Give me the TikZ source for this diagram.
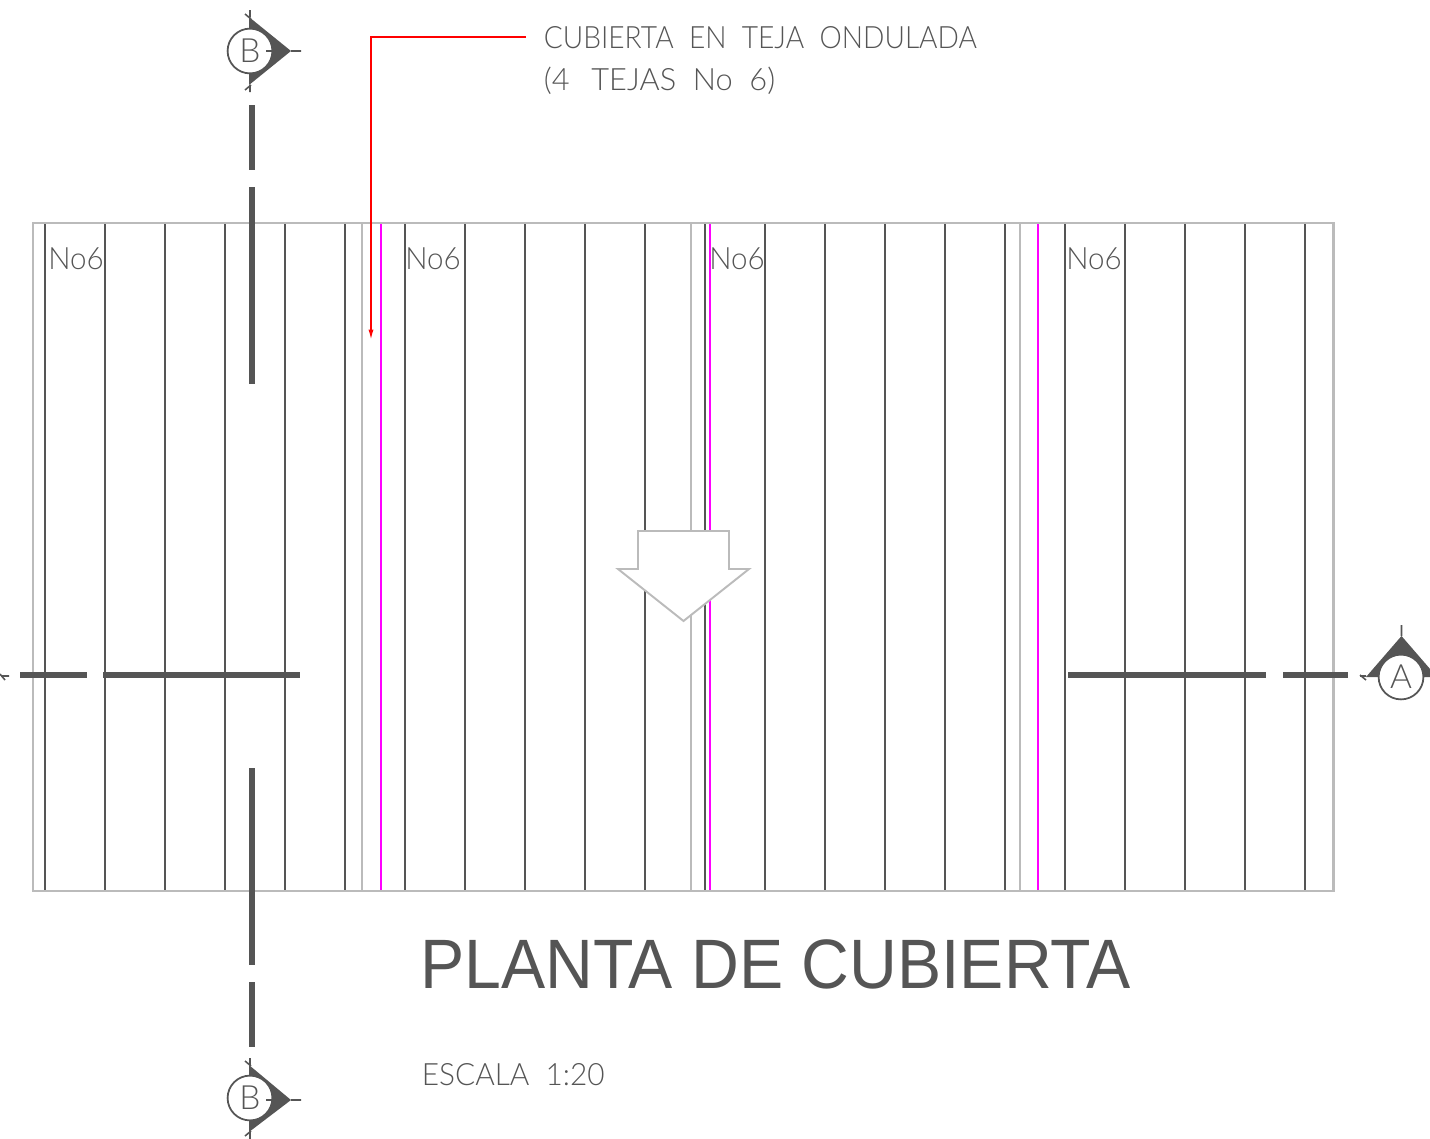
\documentclass[tikz,border=0pt]{standalone}
\usepackage{fontspec}
\setmainfont{Liberation Sans}
\newfontfamily\thinfont{Lato Light}
\usetikzlibrary{arrows.meta,positioning}
\definecolor{planogris}{HTML}{555555}
\definecolor{marcogris}{HTML}{BBBBBB}
\definecolor{tejamagenta}{HTML}{FF00FF}
\begin{document}
\begin{tikzpicture}[
    x=0.02cm,y=-0.02cm,
    tejaline/.style={draw=planogris,line width=1.1pt},
    traslapo/.style={draw=marcogris,line width=1.3pt},
    magentaline/.style={draw=tejamagenta,line width=1.1pt},
    corteline/.style={draw=planogris,line width=3.7pt},
    ticksec/.style={draw=planogris,line width=0.9pt},
    secmark/.style={circle,draw=planogris,line width=1pt,fill=white,minimum size=25.5pt,inner sep=0pt,
        text=planogris,font=\thinfont\fontsize{19}{19}\selectfont},
    cadtext/.style={anchor=base west,inner sep=0pt,text=planogris,font=\thinfont\fontsize{17.5}{17.5}\selectfont}
  ]
  \useasboundingbox (0,0) rectangle (1430,1139);
  % tejas
  \foreach \x in {44.6,104.6,164.6,224.6,284.6,344.6,404.6,464.6,524.6,584.6,644.6,704.6,764.6,824.6,884.6,944.6,1004.6,1064.6,1124.6,1184.6,1244.6,1304.6}
    \draw[tejaline] (\x,223) -- (\x,891);
  \foreach \x in {362,691,1020}
    \draw[traslapo] (\x,223) -- (\x,891);
  \foreach \x in {381,710,1038}
    \draw[magentaline] (\x,223) -- (\x,891);
  \draw[traslapo] (33,223) rectangle (1333.5,891);

  % llamada
  \coordinate (notaend) at (526,37);
  \coordinate (notacorner) at (371,37);
  \coordinate (notatip) at (371,341);
  \draw[red,line width=1.1pt,-{Latex[length=6.5pt,width=2.9pt]}] (notaend) -- (notacorner) -- (notatip);
  \node (nota1) [cadtext,xscale=.915] at (543.5,49) {CUBIERTA\ \ EN\ \ TEJA\ \ ONDULADA};
  \node (nota2) [cadtext] at (543.5,90) {(4\ \ \,TEJAS\ \ No\ \ 6)};

  \node (no1) [cadtext,xscale=.96] at (48,269) {No6};
  \node (no2) [cadtext,xscale=.96] at (405,269) {No6};
  \node (no3) [cadtext,xscale=.96] at (709,269) {No6};
  \node (no4) [cadtext,xscale=.96] at (1066,269) {No6};

  % pendiente
  \draw[traslapo,fill=white,line width=1.1pt] (638,531) -- (729,531) -- (729,569) -- (749,569) -- (683.5,621) -- (618,569) -- (638,569) -- cycle;

  % cortes
  \coordinate (bt1) at (252,105);
  \coordinate (bt2) at (252,170);
  \coordinate (bt3) at (252,187);
  \coordinate (bt4) at (252,384);
  \coordinate (bb1) at (252,768);
  \coordinate (bb2) at (252,965);
  \coordinate (bb3) at (252,982);
  \coordinate (bb4) at (252,1047);
  \coordinate (al1) at (20,675);
  \coordinate (al2) at (87,675);
  \coordinate (al3) at (103,675);
  \coordinate (al4) at (300,675);
  \coordinate (ar1) at (1068,675);
  \coordinate (ar2) at (1266,675);
  \coordinate (ar3) at (1283,675);
  \coordinate (ar4) at (1348,675);
  \draw[corteline] (bt1) -- (bt2) (bt3) -- (bt4);
  \draw[corteline] (bb1) -- (bb2) (bb3) -- (bb4);
  \draw[corteline] (al1) -- (al2) (al3) -- (al4);
  \draw[corteline] (ar1) -- (ar2) (ar3) -- (ar4);

  % marcas de corte
  \fill[planogris] (249,17) -- (291,51) -- (249,85) -- cycle;
  \draw[ticksec] (250,10) -- (250,17) (245,14) -- (251,19) (250,85) -- (250,92) (245,90) -- (251,85) (291,51) -- (301,51);
  \node (secB1) [secmark] at (250,51) {B};
  \draw[ticksec] (266,51) -- (273,51);

  \fill[planogris] (249,1065) -- (291,1100) -- (249,1132) -- cycle;
  \draw[ticksec] (250,1058) -- (250,1065) (245,1061) -- (251,1066) (250,1132) -- (250,1139) (245,1136) -- (251,1131) (291,1100) -- (301,1100);
  \node (secB2) [secmark] at (250,1098) {B};
  \draw[ticksec] (266,1100) -- (273,1100);

  \fill[planogris] (1401.5,636) -- (1366,677) -- (1437,677) -- cycle;
  \draw[ticksec] (1401.5,625) -- (1401.5,636) (1360,676) -- (1366,676) (1360,675) -- (1366,680);
  \node (secA) [secmark] at (1401,677) {A};
  \draw[ticksec] (1401.5,649) -- (1401.5,655);
  \draw[ticksec] (0,674) -- (5,680) (1,676) -- (9,676);

  % titulo
  \node (titulo) [anchor=base west,inner sep=0pt,text=planogris,xscale=.947,font=\fontsize{39.8}{39.8}\selectfont] at (420,988) {PLANTA DE CUBIERTA};
  \node (escala) [cadtext,xscale=.97] at (421.5,1085) {ESCALA\ \ 1:20};
\end{tikzpicture}
\end{document}
